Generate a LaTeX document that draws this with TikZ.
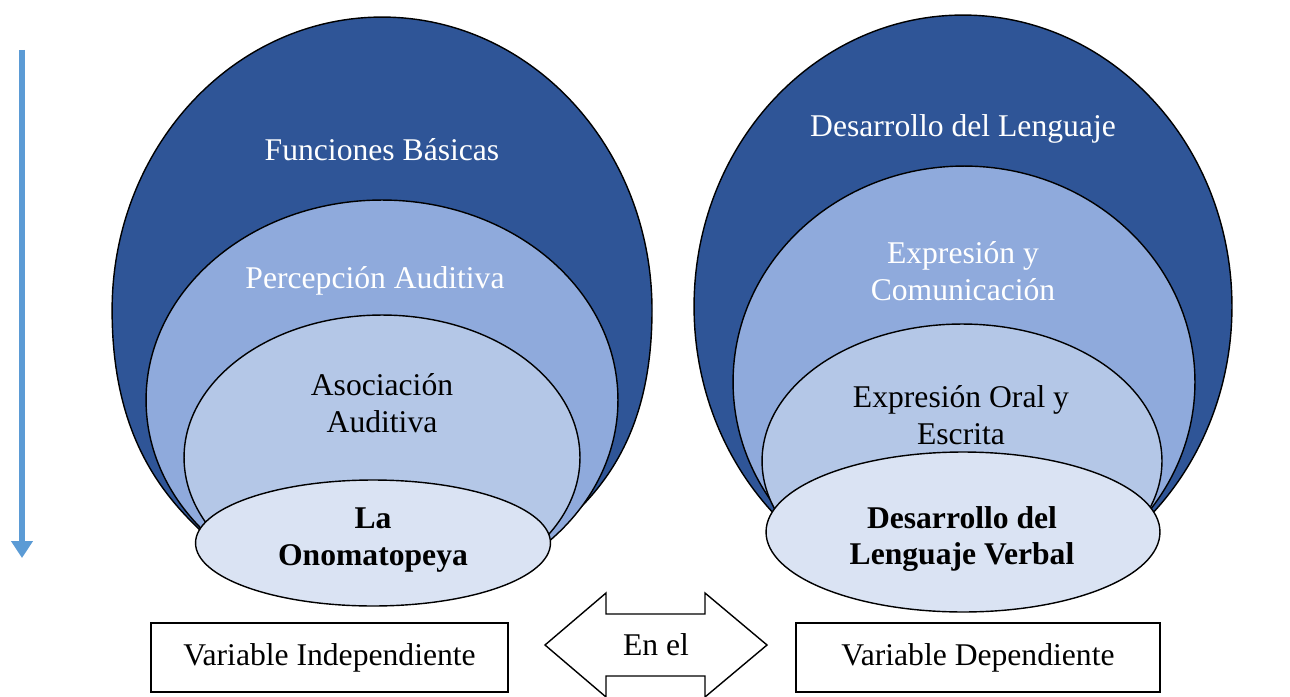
\documentclass[tikz,border=0pt]{standalone}
\usepackage{fontspec}
\setmainfont{Liberation Serif}
\usetikzlibrary{shapes.geometric,arrows.meta}
\definecolor{darkblue}{HTML}{2F5597}
\definecolor{midblue}{HTML}{8FAADC}
\definecolor{lightblue}{HTML}{B4C7E7}
\definecolor{paleblue}{HTML}{DAE3F3}
\definecolor{arrowblue}{HTML}{5B9BD5}
\begin{document}
\begin{tikzpicture}[x=0.02cm,y=-0.02cm,font=\fontsize{18}{21}\selectfont]
        \tikzstyle{level}=[ellipse,draw=black,line width=0.8pt,inner sep=0pt]
        \tikzstyle{white text}=[text=white,align=center]
        \tikzstyle{black text}=[text=black,align=center]
        \tikzstyle{bold text}=[text=black,align=center,font=\fontsize{18}{21}\selectfont\bfseries]
        \tikzstyle{varbox}=[draw=black,line width=0.8pt,fill=white,minimum height=1.38cm]
       \useasboundingbox (0,0) rectangle (1290,696);
       % left side
         \draw [fill=darkblue,line width=0.8pt] (652,310) arc[start angle=0,end angle=180,x radius=5.4cm,y radius=5.86cm]
               .. controls (112,430) and (158,490) .. (200,530) -- (373,585) -- (552,533)
               .. controls (606,490) and (652,430) .. cycle;
         \node [level,fill=midblue,minimum width=9.44cm,minimum height=8cm] (pa) at (382,400) {};
         \node [level,fill=lightblue,minimum width=7.92cm,minimum height=5.7cm] (aa) at (382,457.5) {};
         \node [level,fill=paleblue,minimum width=7.1cm,minimum height=2.52cm] (ono) at (373,543) {};
         \node [white text] (fbtext) at (382,150) {Funciones Básicas};
         \node [white text] (patext) at (375,281) {Percepción Auditiva};
         \node [black text] (aatext) at (382,403) {Asociación\\Auditiva};
         \node [bold text] (onotext) at (373,540) {La\\Onomatopeya};
       % right side
         \node [level,fill=darkblue,minimum width=10.76cm,minimum height=11.66cm] (dl) at (963,306.5) {};
         \node [level,fill=midblue,minimum width=9.24cm,minimum height=8.64cm] (ec) at (964,382) {};
         \node [level,fill=lightblue,minimum width=8cm,minimum height=5.48cm] (eo) at (962,461) {};
         \node [level,fill=paleblue,minimum width=7.88cm,minimum height=3.2cm] (dlv) at (963,532) {};
         \node [white text] (dltext) at (963,129) {Desarrollo del Lenguaje};
         \node [white text] (ectext) at (963,271) {Expresión y\\Comunicación};
         \node [black text] (eotext) at (961,415) {Expresión Oral y\\Escrita};
         \node [bold text] (dlvtext) at (962,539) {Desarrollo del\\Lenguaje Verbal};
       % bottom
         \node [varbox,minimum width=7.14cm] (vi) at (329.5,657.5) {Variable Independiente};
         \node [varbox,minimum width=7.28cm] (vd) at (978,657.5) {Variable Dependiente};
         \draw [line width=0.8pt,fill=white] (545,645) -- (606,593) -- (606,614) -- (705,614) -- (705,593)
               -- (767,645) -- (705,697) -- (705,676) -- (606,676) -- (606,697) -- cycle;
         \node (enel) at (656,645) {En el};
       % arrow
         \coordinate (top) at (22,50);
         \coordinate (bottom) at (22,558);
         \draw [arrowblue,line width=3.4pt,-{Triangle[width=0.42cm,length=0.34cm]}] (top) -- (bottom);
      \end{tikzpicture}
\end{document}
